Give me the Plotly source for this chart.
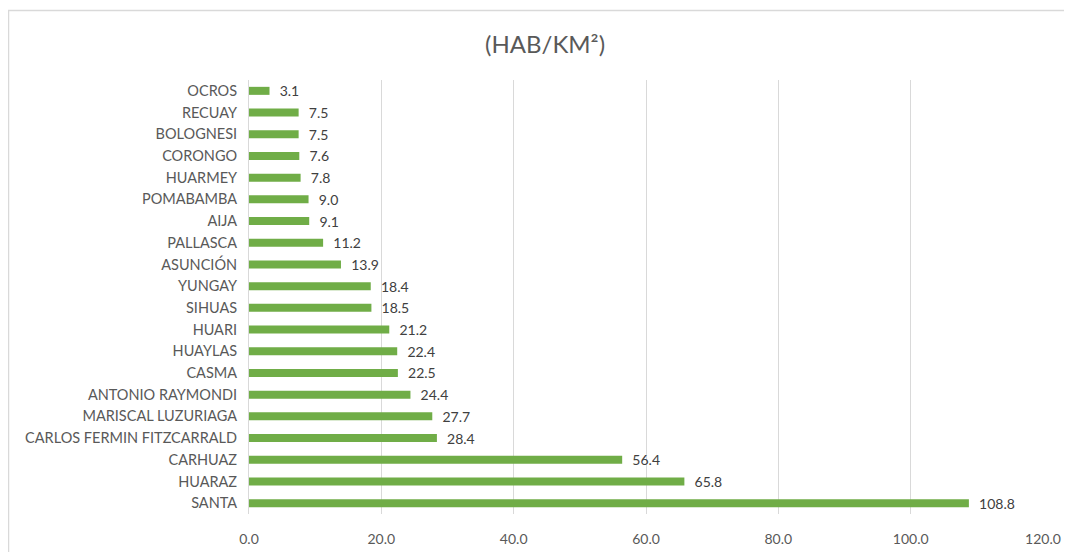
import plotly.graph_objects as go

# provinces, listed top to bottom as in the chart
PROVINCES = [
  "OCROS", "RECUAY", "BOLOGNESI", "CORONGO", "HUARMEY", "POMABAMBA", "AIJA",
  "PALLASCA", "ASUNCIÓN", "YUNGAY", "SIHUAS", "HUARI", "HUAYLAS", "CASMA",
  "ANTONIO RAYMONDI", "MARISCAL LUZURIAGA", "CARLOS FERMIN FITZCARRALD",
  "CARHUAZ", "HUARAZ", "SANTA",
]
DENSITY = [
  3.1, 7.5, 7.5, 7.6, 7.8, 9.0, 9.1,
  11.2, 13.9, 18.4, 18.5, 21.2, 22.4, 22.5,
  24.4, 27.7, 28.4,
  56.4, 65.8, 108.8,
]
X_TICKS = [0, 20, 40, 60, 80, 100, 120]

GREEN = "#70AD47"
TEXT = "#595959"
FONT = "Lato, 'Open Sans', sans-serif"


def main():
  fig = go.Figure(
    go.Bar(
      x=DENSITY,
      y=PROVINCES,
      orientation="h",
      marker=dict(color=GREEN, line=dict(width=0)),
      text=[f"  {v:.1f}" for v in DENSITY],
      textposition="outside",
      constraintext="none",
      textfont=dict(size=14, color="#404040", family=FONT),
      cliponaxis=False,
    )
  )

  # the page body adds an 8px offset, margins compensate for it
  fig.update_layout(
    width=1072,
    height=552,
    margin=dict(l=241, r=37, t=72, b=46),
    paper_bgcolor="white",
    plot_bgcolor="white",
    bargap=0.63,
    showlegend=False,
    title=dict(
      text="(HAB/KM²)",
      x=0.501,
      xref="container",
      y=0.933,
      yanchor="middle",
      font=dict(size=24, color=TEXT, family=FONT),
    ),
    font=dict(family=FONT, color=TEXT),
  )

  fig.update_xaxes(
    range=[0, 120],
    tickvals=X_TICKS,
    ticktext=[f"{t:.1f}" for t in X_TICKS],
    showgrid=True,
    gridcolor="#D9D9D9",
    gridwidth=1,
    zeroline=False,
    showline=False,
    ticks="outside",
    ticklen=12,
    tickcolor="rgba(0,0,0,0)",
    tickfont=dict(size=14, color=TEXT),
  )
  fig.update_yaxes(
    categoryorder="array",
    categoryarray=PROVINCES[::-1],
    showgrid=False,
    showline=True,
    linecolor="#D9D9D9",
    linewidth=1,
    ticks="outside",
    ticklen=8,
    tickcolor="rgba(0,0,0,0)",
    tickfont=dict(size=14.5, color=TEXT),
  )

  # chart frame, partly cut off on the right and bottom
  fig.add_shape(
    type="rect",
    xref="paper", yref="paper",
    x0=-0.3029, x1=1.2, y0=-0.3, y1=1.160,
    line=dict(color="#D9D9D9", width=1.5),
    layer="below",
  )

  fig.write_html("out.html")


if __name__ == "__main__":
  main()
